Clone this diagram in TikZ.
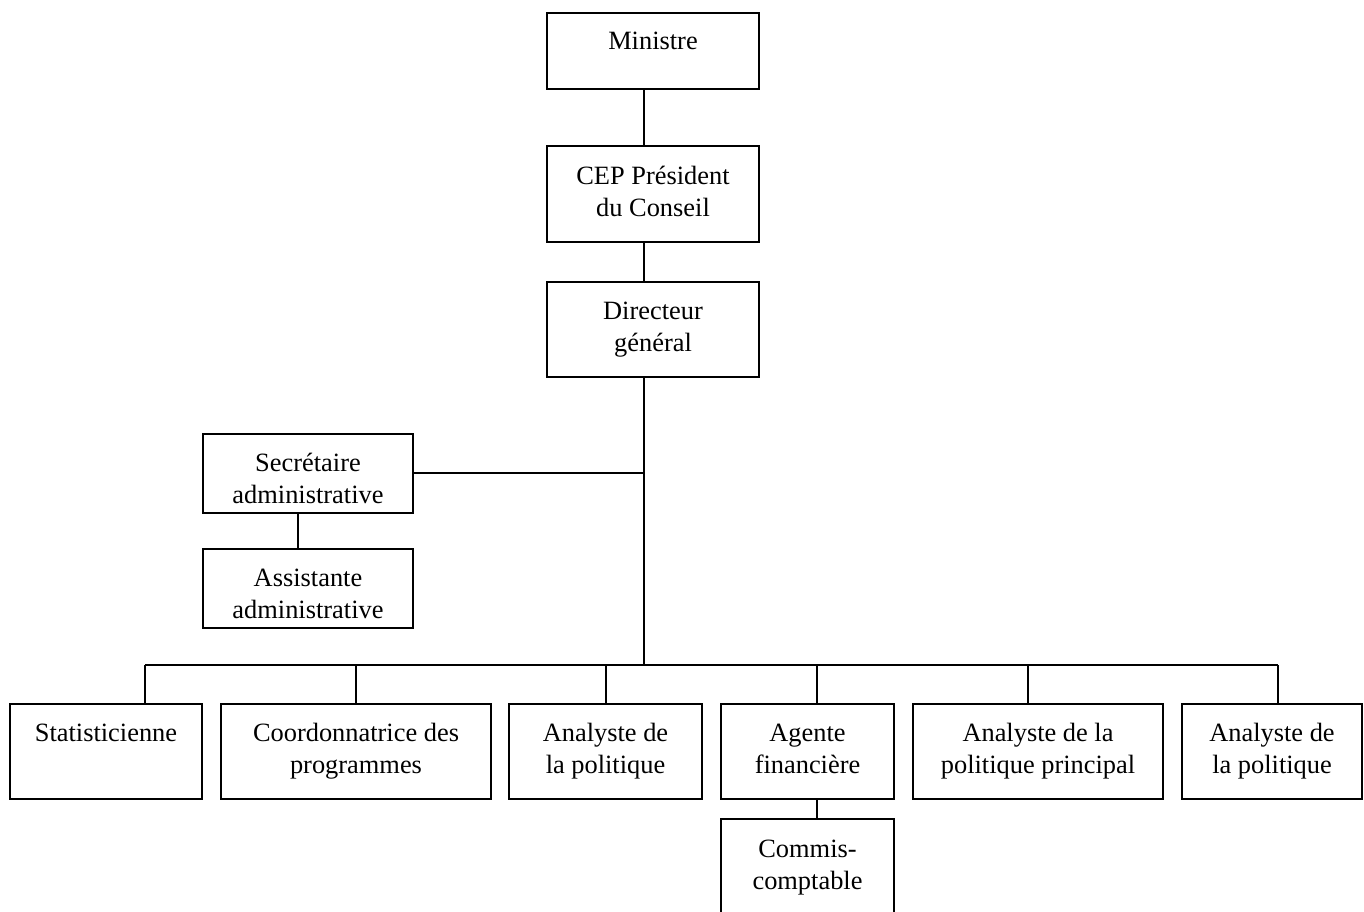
\documentclass[tikz,border=0pt]{standalone}
\usepackage{fontspec}
\setmainfont{Liberation Serif}
\begin{document}
\begin{tikzpicture}[x=1pt,y=-1pt,
  box/.style={draw, line width=1.9pt, rectangle, align=center, inner sep=0pt,
    font=\fontsize{26.4}{32}\selectfont},
  link/.style={line width=1.9pt}]
\useasboundingbox (0,0) rectangle (1364,911);
% top chain
\node[box, minimum width=212, minimum height=76] (min) at (653,51) {\strut Ministre\rule[-26.4pt]{0pt}{26.4pt}};
\node[box, minimum width=212, minimum height=96] (cep) at (653,194) {\strut CEP Président\\du Conseil\strut};
\node[box, minimum width=212, minimum height=95] (dir) at (653,329.5) {\strut Directeur\\général\strut};
% side
\node[box, minimum width=210, minimum height=77] (sec) at (308,473.5) {\rule{0pt}{38pt}Secrétaire\\administrative\strut};
\node[box, minimum width=210, minimum height=77] (ass) at (308,588.5) {\rule{0pt}{38pt}Assistante\\administrative\strut};
% bottom row
\node[box, minimum width=192, minimum height=95] (stat) at (106,751.5) {\strut Statisticienne\\\strut};
\node[box, minimum width=270, minimum height=95] (coord) at (356,751.5) {\strut Coordonnatrice des\\programmes\strut};
\node[box, minimum width=193, minimum height=95] (ana1) at (605.5,751.5) {\strut Analyste de\\la politique\strut};
\node[box, minimum width=173, minimum height=95] (agent) at (807.5,751.5) {\strut Agente\\financière\strut};
\node[box, minimum width=250, minimum height=95] (anap) at (1038,751.5) {\strut Analyste de la\\politique principal\strut};
\node[box, minimum width=180, minimum height=95] (ana2) at (1272,751.5) {\strut Analyste de\\la politique\strut};
\node[box, minimum width=173, minimum height=96] (commis) at (807.5,867) {\strut Commis-\\comptable\strut};
% coordinates
\coordinate (trunk) at (644,665);
\coordinate (sx) at (298,0);
\coordinate (sy) at (0,473);
\coordinate (b1) at (145,665);
\coordinate (b2) at (356,665);
\coordinate (b3) at (606,665);
\coordinate (b4) at (817,665);
\coordinate (b5) at (1028,665);
\coordinate (b6) at (1278,665);
% connectors
\draw[link] (min.south -| trunk) -- (cep.north -| trunk);
\draw[link] (cep.south -| trunk) -- (dir.north -| trunk);
\draw[link] (dir.south -| trunk) -- (trunk);
\draw[link] (sec.east |- sy) -- (trunk |- sy);
\draw[link] (sec.south -| sx) -- (ass.north -| sx);
\draw[link] (b1) -- (b6);
\draw[link] (b1) -- (b1 |- stat.north);
\draw[link] (b2) -- (b2 |- coord.north);
\draw[link] (b3) -- (b3 |- ana1.north);
\draw[link] (b4) -- (b4 |- agent.north);
\draw[link] (b5) -- (b5 |- anap.north);
\draw[link] (b6) -- (b6 |- ana2.north);
\draw[link] (agent.south -| b4) -- (commis.north -| b4);
\end{tikzpicture}
\end{document}
